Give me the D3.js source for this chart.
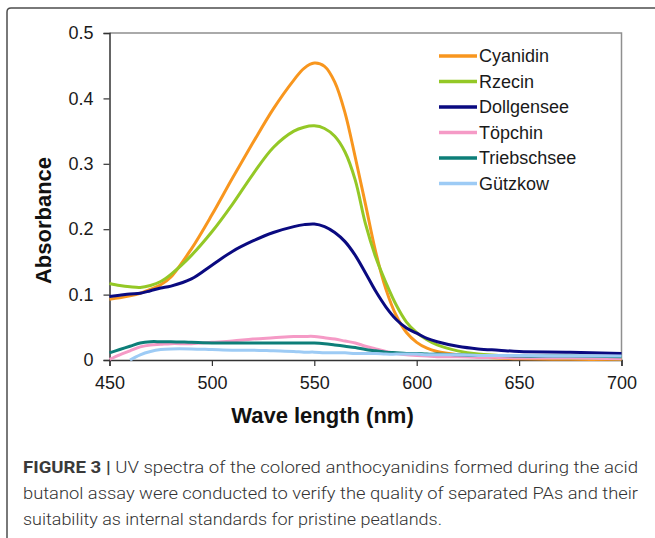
<!DOCTYPE html>
<html>
<head>
<meta charset="utf-8">
<script src="https://cdn.jsdelivr.net/npm/d3@7"></script>
<style>
	body { margin: 0; background: #fff; }
	svg { display: block; }
</style>
</head>
<body>
<svg id="chart"></svg>
<script>

// wavelength grid (nm) shared by all spectra
var wavelengths = [450,455,460,465,470,475,480,490,500,510,520,530,540,545,550,555,560,565,570,575,580,585,590,595,600,605,610,620,630,640,650,675,700];

var cyanidin    = [.093,.095,.098,.102,.108,.115,.127,.170,.222,.278,.332,.384,.428,.446,.454,.449,.425,.378,.310,.238,.165,.108,.068,.042,.027,.018,.013,.008,.005,.003,.002,.001,.001];
var rzecin      = [.117,.114,.112,.111,.114,.120,.131,.160,.196,.238,.284,.325,.350,.356,.358,.354,.342,.318,.275,.208,.157,.118,.084,.058,.042,.031,.023,.014,.009,.007,.005,.003,.002];
var dollgensee  = [.097,.099,.101,.102,.106,.110,.113,.124,.145,.166,.182,.195,.204,.207,.208,.204,.195,.181,.160,.133,.105,.081,.062,.049,.041,.033,.028,.021,.017,.015,.013,.012,.010];
var topchin     = [.001,.008,.014,.020,.023,.024,.025,.025,.027,.029,.032,.034,.036,.036,.036,.034,.032,.029,.026,.021,.017,.013,.010,.008,.007,.006,.005,.005,.004,.004,.003,.003,.002];
var triebschsee = [.011,.016,.021,.026,.028,.028,.028,.027,.026,.026,.026,.026,.026,.026,.026,.025,.023,.021,.019,.016,.014,.012,.011,.010,.010,.009,.009,.008,.007,.007,.006,.006,.005];
var gutzkow     = [null,null,.000,.008,.013,.016,.017,.017,.016,.015,.015,.014,.013,.012,.012,.011,.011,.011,.010,.010,.010,.009,.009,.009,.009,.008,.008,.008,.007,.007,.007,.006,.006];

var seriesNames = ["Cyanidin", "Rzecin", "Dollgensee", "Töpchin", "Triebschsee", "Gützkow"];
var seriesValues = [cyanidin, rzecin, dollgensee, topchin, triebschsee, gutzkow];
var seriesColors = ["#f8961e", "#94c826", "#0a0a80", "#f59ac6", "#0d7e78", "#9dcbf5"];

var xTicks = [450, 500, 550, 600, 650, 700];
var yTicks = [0, 0.1, 0.2, 0.3, 0.4, 0.5];

var captionLines = [
	{ bold: "FIGURE 3 | ", text: "UV spectra of the colored anthocyanidins formed during the acid", width: 615 },
	{ bold: "", text: "butanol assay were conducted to verify the quality of separated PAs and their", width: 615 },
	{ bold: "", text: "suitability as internal standards for pristine peatlands.", width: 419 }
];

var width = 655, height = 538;

var svg = d3.select("#chart")
	.attr("width", width)
	.attr("height", height)
	.style("font-family", "Liberation Sans, Arial, sans-serif");

// outer figure frame (runs off the right and bottom edges)
svg.append("path")
	.attr("d", "M " + width + ",8 L 11,8 Q 7,8 7,12 L 7," + height)
	.attr("fill", "none")
	.attr("stroke", "#4d4d4d")
	.attr("stroke-width", 1.5);

var x = d3.scaleLinear().domain([450, 700]).range([109.5, 621.5]);
var y = d3.scaleLinear().domain([0, 0.5]).range([360, 33]);

// top and right plot borders (grey)
svg.append("path")
	.attr("d", "M " + x(450) + "," + y(0.5) + " L " + x(700) + "," + y(0.5) + " L " + x(700) + "," + y(0))
	.attr("fill", "none")
	.attr("stroke", "#8f8f8f")
	.attr("stroke-width", 1.5);

var xAxis = svg.append("g")
	.attr("transform", "translate(0," + y(0) + ")")
	.call(d3.axisBottom(x).tickValues(xTicks).tickSize(6).tickPadding(10).tickFormat(d3.format("d")));

var yAxis = svg.append("g")
	.attr("transform", "translate(" + x(450) + ",0)")
	.call(d3.axisLeft(y).tickValues(yTicks).tickSize(6).tickPadding(10).tickFormat(function(d) { return d === 0 ? "0" : d3.format(".1f")(d); }));

[xAxis, yAxis].forEach(function(ax) {
	ax.select(".domain").attr("stroke", "#333").attr("stroke-width", 1.5);
	ax.selectAll(".tick line").attr("stroke", "#333").attr("stroke-width", 1.2);
	ax.selectAll(".tick text")
		.attr("fill", "#1a1a1a")
		.style("font-size", "18px")
		.style("font-family", "Liberation Sans, Arial, sans-serif");
});

// axis titles
svg.append("text")
	.attr("x", 322.5)
	.attr("y", 423)
	.attr("text-anchor", "middle")
	.style("font-size", "22px")
	.style("font-weight", "bold")
	.attr("fill", "#111")
	.text("Wave length (nm)");

svg.append("text")
	.attr("transform", "translate(51,220.5) rotate(-90)")
	.attr("text-anchor", "middle")
	.style("font-size", "22px")
	.style("font-weight", "bold")
	.attr("fill", "#111")
	.text("Absorbance");

// spectra
var line = d3.line()
	.defined(function(d) { return d[1] != null; })
	.x(function(d) { return x(d[0]); })
	.y(function(d) { return y(d[1]); })
	.curve(d3.curveCatmullRom.alpha(0.5));

seriesValues.forEach(function(vals, i) {
	var pts = wavelengths.map(function(w, j) { return [w, vals[j]]; });
	svg.append("path")
		.datum(pts)
		.attr("d", line)
		.attr("fill", "none")
		.attr("stroke", seriesColors[i])
		.attr("stroke-width", 3)
		.attr("stroke-linejoin", "round");
});

// legend
var legend = svg.append("g").attr("transform", "translate(439,56)");
seriesNames.forEach(function(name, i) {
	var row = legend.append("g").attr("transform", "translate(0," + (i * 25.5) + ")");
	row.append("line")
		.attr("x1", 0).attr("x2", 38)
		.attr("y1", 0).attr("y2", 0)
		.attr("stroke", seriesColors[i])
		.attr("stroke-width", 3.5);
	row.append("text")
		.attr("x", 40)
		.attr("dy", "0.35em")
		.style("font-size", "18px")
		.attr("fill", "#1a1a1a")
		.text(name);
});

// caption
captionLines.forEach(function(c, i) {
	var t = svg.append("text")
		.attr("x", 23)
		.attr("y", 473 + i * 26)
		.attr("textLength", c.width)
		.attr("lengthAdjust", "spacingAndGlyphs")
		.style("font-family", "Roboto, sans-serif")
		.style("font-size", "17px")
		.style("font-weight", 300)
		.attr("fill", "#333");
	if (c.bold) {
		t.append("tspan").style("font-weight", "bold").attr("fill", "#3a3a3a").text(c.bold);
	}
	t.append("tspan").text(c.text);
});

</script>
</body>
</html>
